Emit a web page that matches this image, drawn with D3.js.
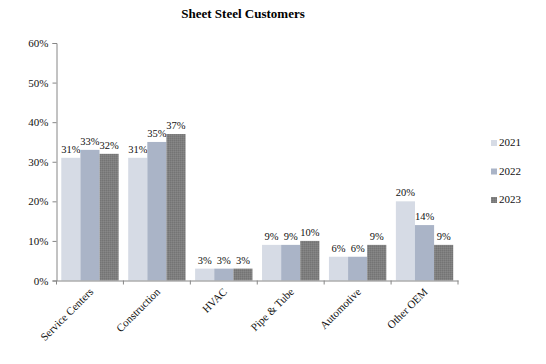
<!DOCTYPE html>
<html><head><meta charset="utf-8">
<script src="https://cdn.jsdelivr.net/npm/d3@7"></script>
<style>body{margin:0;background:#fff}svg{display:block}</style>
</head><body>
<script>
const categories = ["Service Centers","Construction","HVAC","Pipe & Tube","Automotive","Other OEM"];
const years = ["2021","2022","2023"];
const v2021 = [31,31,3,9,6,20];
const v2022 = [33,35,3,9,6,14];
const v2023 = [32,37,3,10,9,9];
const yTicks = [0,10,20,30,40,50,60];
const seriesValues = [v2021, v2022, v2023];
const colors = ["#d6dbe5","#aab4c7","url(#tex)"];
const legendColors = ["#d6dbe5","#aab4c7","url(#tex)"];

const W=546,H=364;
const svg=d3.select("body").append("svg").attr("width",W).attr("height",H);
const defs=svg.append("defs");
const pat=defs.append("pattern").attr("id","tex").attr("width",2).attr("height",2).attr("patternUnits","userSpaceOnUse");
pat.append("rect").attr("width",2).attr("height",2).attr("fill","#7e7e7e");
pat.append("rect").attr("width",1).attr("height",1).attr("fill","#747474");
pat.append("rect").attr("x",1).attr("y",1).attr("width",1).attr("height",1).attr("fill","#878787");

const x0=56.5, x1=458, y0=280.5, y1=43;
const x=d3.scaleBand().domain(categories).range([x0,x1]).paddingInner(0).paddingOuter(0);
const xs=d3.scaleBand().domain(years).range([0,x.bandwidth()]).paddingInner(0).paddingOuter(0.25);
const y=d3.scaleLinear().domain([0,60]).range([y0,y1]);

svg.append("text").attr("x",243).attr("y",18).attr("text-anchor","middle")
  .attr("font-family","Liberation Serif").attr("font-weight","bold").attr("font-size",13).text("Sheet Steel Customers");

// bars
years.forEach((yr,i)=>{
  const g=svg.append("g");
  g.selectAll("rect").data(categories).join("rect")
    .attr("x",c=>x(c)+xs(yr)).attr("width",xs.bandwidth())
    .attr("y",(c,j)=>y(seriesValues[i][j])).attr("height",(c,j)=>y(0)-y(seriesValues[i][j]))
    .attr("fill",colors[i]);
  g.selectAll("text").data(categories).join("text")
    .attr("x",c=>x(c)+xs(yr)+xs.bandwidth()/2).attr("y",(c,j)=>y(seriesValues[i][j])-5)
    .attr("text-anchor","middle").attr("font-family","Liberation Serif").attr("font-size",10.5).attr("fill","#111")
    .text((c,j)=>seriesValues[i][j]+"%");
});

// y axis
const ya=svg.append("g").attr("transform",`translate(${x0},0)`)
  .call(d3.axisLeft(y).tickValues(yTicks).tickFormat(d=>d+"%").tickSize(4).tickSizeOuter(4));
ya.select(".domain").attr("stroke","#868686");
ya.selectAll(".tick line").attr("stroke","#868686");
ya.selectAll("text").attr("font-family","Liberation Serif").attr("font-size",11).attr("fill","#111").attr("x",-8);

// x axis
const xa=svg.append("g").attr("transform",`translate(0,${y0})`)
  .call(d3.axisBottom(x).tickSize(0).tickSizeOuter(0));
xa.select(".domain").attr("stroke","#868686");
xa.selectAll(".tick line").remove();
const bounds=categories.map(c=>x(c)).concat([x1]);
xa.selectAll("line.bt").data(bounds).join("line").attr("class","bt")
  .attr("x1",d=>d).attr("x2",d=>d).attr("y1",0).attr("y2",4).attr("stroke","#868686");
xa.selectAll(".tick text").attr("font-family","Liberation Serif").attr("font-size",11).attr("fill","#111")
  .attr("text-anchor","end").attr("dy",0).attr("y",0)
  .attr("transform",`translate(4,12) rotate(-45)`);

// legend
const lg=svg.append("g");
years.forEach((yr,i)=>{
  const ly=146+i*28.5;
  lg.append("rect").attr("x",491).attr("y",ly-6).attr("width",6).attr("height",6).attr("fill",legendColors[i]);
  lg.append("text").attr("x",499).attr("y",ly).attr("font-family","Liberation Serif").attr("font-size",11).attr("fill","#111").text(yr);
});
</script>
</body></html>
